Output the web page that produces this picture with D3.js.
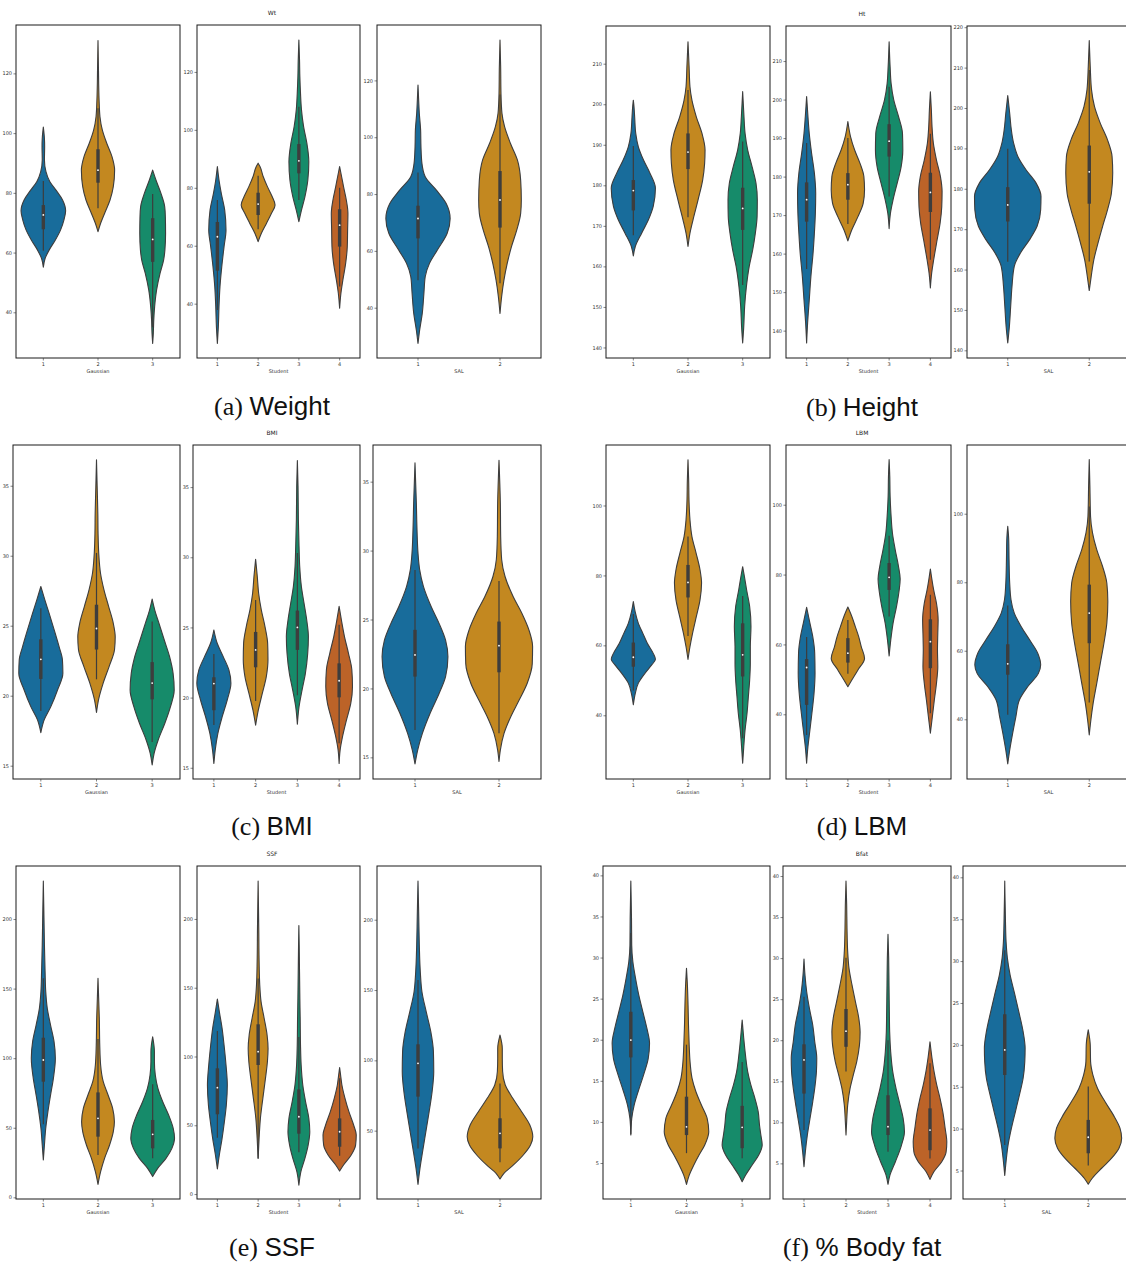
<!DOCTYPE html>
<html><head><meta charset="utf-8">
<script src="https://cdn.jsdelivr.net/npm/d3@7"></script>
<style>body{margin:0;background:#fff}</style>
</head><body><svg id="c" width="1126" height="1266"></svg>
<script>
// ---------- categories & labels ----------
const gaussCats = ["1","2","3"];
const studentCats = ["1","2","3","4"];
const salCats = ["1","2"];
const groupLabels = ["Gaussian","Student","SAL"];
const titles = ["Wt","Ht","BMI","LBM","SSF","Bfat"];
const captionTags = ["(a)","(b)","(c)","(d)","(e)","(f)"];
const captionWords = ["Weight","Height","BMI","LBM","SSF","% Body fat"];
const palette = ["#186c9b","#c38820","#168b6a","#bc6328"];

// ---------- tick labels ----------
const wtTicks = [40,60,80,100,120];
const htTicks = [140,150,160,170,180,190,200,210];
const htSalTicks = [140,150,160,170,180,190,200,210,220];
const bmiTicks = [15,20,25,30,35];
const lbmTicks = [40,60,80,100];
const ssfTicks = [0,50,100,150,200];
const ssfSalTicks = [50,100,150,200];
const bfatTicks = [5,10,15,20,25,30,35,40];

// ---------- axis value ranges ----------
const wtDomains = [[24.7,136.2],[21.25,136.2],[22.3,139.5]];
const htDomains = [[137.4,219.3],[132.9,219.1],[138.1,220.3]];
const bmiDomains = [[14.05,37.91],[14.2,38.0],[13.43,37.66]];
const lbmDomains = [[21.78,117.3],[21.47,117.1],[22.57,120.06]];
const ssfDomains = [[-1.2,238.1],[-3.6,238.5],[1.4,238.2]];
const bfatDomains = [[0.62,41.14],[0.66,41.22],[1.6,41.35]];

// ---------- violin density profiles: [value, relative half width] ----------
// (a) Weight
const wtGauss = [
 [[55.1,0],[58,0.08],[60.9,0.27],[64.2,0.55],[67.6,0.79],[70.9,0.94],[74,1.02],[77.6,0.88],[80.9,0.58],[83.7,0.3],[87.1,0.12],[91,0.05],[95.5,0.06],[98.2,0.05],[102,0]],
 [[67,0],[69.8,0.12],[73.1,0.3],[77.6,0.55],[82.1,0.7],[87.6,0.76],[92.1,0.64],[96.6,0.4],[101,0.2],[105.5,0.09],[111,0.05],[116.7,0.03],[122,0.02],[131,0]],
 [[29.6,0],[33,0.03],[37.4,0.05],[41.9,0.09],[47.5,0.18],[53.1,0.34],[57.5,0.5],[60.9,0.56],[66.4,0.59],[72,0.58],[75.4,0.55],[79.8,0.38],[84.3,0.15],[87.6,0]]
];
const wtStudent = [
 [[26.3,0],[32.1,0.06],[39,0.1],[45.9,0.16],[52.8,0.27],[59.7,0.41],[65.4,0.53],[72.3,0.45],[78.1,0.24],[82.7,0.1],[87.3,0]],
 [[61.4,0],[64.3,0.2],[67.7,0.51],[71.2,0.82],[74.1,1.04],[77,0.86],[80.4,0.57],[83.9,0.31],[87.3,0.12],[88.5,0]],
 [[68.3,0],[72.3,0.16],[76.9,0.37],[82.7,0.55],[89,0.61],[95.4,0.49],[101.1,0.29],[106.9,0.16],[112.6,0.1],[118.4,0.06],[124.1,0.04],[131,0]],
 [[38.4,0],[43.6,0.08],[48.2,0.2],[53.9,0.37],[59.7,0.47],[65.4,0.49],[71.2,0.51],[75.8,0.41],[80.4,0.24],[83.9,0.12],[87.3,0]]
];
const wtSal = [
 [[27.4,0],[32.1,0.05],[38,0.13],[45,0.18],[50.9,0.22],[55.6,0.35],[60.3,0.59],[66.2,0.89],[71.4,0.98],[76.7,0.86],[81.4,0.56],[86.1,0.22],[90.8,0.12],[96.7,0.09],[102.5,0.08],[108.4,0.04],[113.1,0.02],[118.4,0]],
 [[38,0],[43.9,0.05],[49.7,0.12],[55.6,0.22],[61.5,0.35],[67.3,0.51],[73.2,0.63],[77.9,0.65],[84.9,0.63],[92,0.53],[97.8,0.32],[103.7,0.14],[108.4,0.06],[115.4,0.03],[124.8,0.02],[134.2,0]]
];
// (b) Height
const htGauss = [
 [[162.6,0],[164.9,0.09],[168.2,0.38],[171.5,0.69],[174.8,0.91],[179.3,1.01],[183,0.76],[186.3,0.46],[189.5,0.23],[192.8,0.11],[196.9,0.06],[199.4,0.03],[201,0]],
 [[164.9,0],[168.2,0.09],[171.5,0.23],[176.4,0.46],[181.3,0.67],[185.4,0.76],[188.7,0.78],[192.8,0.64],[196.9,0.38],[201,0.18],[204.3,0.09],[209.3,0.05],[215.4,0]],
 [[141.1,0],[145.2,0.05],[150.1,0.09],[155,0.17],[160,0.3],[164.1,0.46],[168.2,0.58],[172.3,0.66],[176.4,0.67],[180.5,0.61],[184.6,0.43],[188.7,0.23],[192.8,0.11],[196.9,0.06],[203.1,0]]
];
const htStudent = [
 [[136.8,0],[142,0.06],[148,0.16],[154.1,0.26],[160.1,0.39],[165.3,0.47],[170.5,0.53],[175.7,0.55],[180.9,0.47],[186.1,0.3],[191.2,0.16],[195.6,0.08],[200.8,0]],
 [[163.3,0],[166.2,0.24],[169.6,0.61],[173.1,0.93],[176.6,1.01],[180,0.97],[183.5,0.73],[186.9,0.41],[190.4,0.16],[194.3,0]],
 [[166.5,0],[170.5,0.08],[174,0.24],[178.3,0.49],[182.6,0.73],[186.9,0.83],[191.2,0.81],[195.6,0.57],[199.9,0.28],[204.2,0.12],[208.5,0.06],[215,0]],
 [[151.1,0],[155,0.08],[158.4,0.2],[163.6,0.41],[167.9,0.59],[172.2,0.69],[176.1,0.71],[180,0.61],[184.3,0.37],[188.7,0.18],[193,0.1],[197.3,0.06],[202,0]]
];
const htSal = [
 [[141.8,0],[145.9,0.05],[150.9,0.09],[155.8,0.13],[160.8,0.2],[164.1,0.39],[167.4,0.67],[170.7,0.9],[174.8,1.01],[178.1,1.02],[181.4,0.87],[184.7,0.56],[188,0.31],[191.3,0.18],[194.6,0.11],[198.7,0.06],[203.1,0]],
 [[154.8,0],[158.3,0.06],[162.4,0.14],[166.6,0.27],[170.7,0.41],[174.8,0.56],[178.9,0.68],[183.9,0.72],[188,0.7],[192.1,0.56],[196.2,0.34],[200.4,0.16],[204.5,0.07],[210.3,0.03],[216.7,0]]
];
// (c) BMI
const bmiGauss = [
 [[17.36,0],[18.27,0.15],[19.22,0.45],[20.41,0.75],[21.6,0.99],[22.56,0.97],[23.5,0.82],[24.7,0.6],[25.9,0.37],[26.85,0.18],[27.8,0]],
 [[18.8,0],[19.7,0.09],[20.9,0.3],[22.1,0.57],[23.3,0.81],[24.2,0.84],[25.2,0.75],[26.4,0.54],[27.6,0.33],[28.75,0.18],[30.2,0.1],[31.6,0.07],[33,0.06],[34.95,0.03],[36.86,0]],
 [[15.05,0],[15.9,0.09],[16.84,0.27],[18.03,0.57],[19.2,0.82],[20.4,0.99],[21.6,0.94],[22.8,0.78],[24,0.54],[25.2,0.3],[26.1,0.12],[26.9,0]]
];
const bmiStudent = [
 [[15.3,0],[16.26,0.08],[17.45,0.24],[18.64,0.5],[19.83,0.8],[21.02,1.02],[21.97,0.9],[22.92,0.56],[23.87,0.2],[24.82,0]],
 [[18.04,0],[19.1,0.16],[20.3,0.4],[21.5,0.64],[22.7,0.74],[23.87,0.72],[25.06,0.56],[26.25,0.34],[27.44,0.18],[28.63,0.1],[29.86,0]],
 [[18.1,0],[19.35,0.1],[20.54,0.28],[21.73,0.48],[23.16,0.62],[24.35,0.66],[25.53,0.56],[26.72,0.4],[27.91,0.24],[29.34,0.14],[30.77,0.1],[32.67,0.06],[35.05,0.04],[36.9,0]],
 [[15.3,0],[16.26,0.06],[17.2,0.2],[18.4,0.44],[19.6,0.7],[20.8,0.8],[22,0.76],[23.16,0.56],[24.35,0.32],[25.5,0.14],[26.5,0]]
];
const bmiSal = [
 [[14.52,0],[15.53,0.08],[16.74,0.22],[18.2,0.45],[19.65,0.72],[20.86,0.91],[22.3,0.98],[23.5,0.91],[24.7,0.72],[25.94,0.48],[27.4,0.25],[28.6,0.14],[29.8,0.09],[31.5,0.06],[33.45,0.04],[36.36,0]],
 [[14.7,0],[15.53,0.04],[16.74,0.15],[17.95,0.35],[19.16,0.6],[20.38,0.84],[21.8,0.99],[23.04,1.0],[24.25,0.89],[25.46,0.68],[26.67,0.42],[28.12,0.18],[29.33,0.08],[31,0.05],[33.45,0.04],[36.55,0]]
];
// (d) LBM
const lbmGauss = [
 [[43,0],[46.3,0.09],[49.2,0.23],[52,0.53],[54.4,0.84],[56,1.01],[57.7,0.91],[60.6,0.64],[63.5,0.43],[66.3,0.23],[69.7,0.08],[72.5,0]],
 [[56,0],[59.6,0.09],[63.5,0.21],[68.2,0.38],[73,0.55],[77.8,0.62],[81.6,0.55],[86.4,0.37],[91.1,0.18],[95.9,0.09],[100.7,0.05],[107.3,0.03],[113.1,0]],
 [[26.3,0],[31,0.05],[35.8,0.11],[40.6,0.2],[45.3,0.26],[50.1,0.32],[54.9,0.35],[59.6,0.35],[65.4,0.38],[71.1,0.32],[75.9,0.18],[79.7,0.08],[82.5,0]]
];
const lbmStudent = [
 [[26,0],[30.7,0.08],[35.5,0.2],[40.3,0.32],[46,0.45],[51.8,0.51],[57.5,0.49],[62.3,0.37],[66.1,0.2],[70.6,0]],
 [[47.9,0],[49.8,0.24],[52.7,0.61],[56,1.01],[59.4,0.81],[62.3,0.65],[65.1,0.45],[68,0.24],[70.7,0]],
 [[56.7,0],[61.3,0.1],[66.1,0.24],[70.9,0.45],[75.6,0.61],[78.7,0.67],[82.3,0.57],[87.1,0.37],[91.9,0.2],[96.7,0.12],[102.4,0.06],[108.1,0.04],[112.9,0]],
 [[34.6,0],[39.3,0.12],[44.1,0.24],[48.9,0.37],[53.7,0.45],[58.4,0.43],[63.2,0.45],[67,0.47],[71.8,0.37],[75.6,0.2],[79,0.08],[81.6,0]]
];
const lbmSal = [
 [[27,0],[31,0.06],[35.9,0.15],[40.8,0.25],[45.7,0.36],[49.5,0.61],[53.4,0.94],[55.9,1.01],[59.3,0.92],[63.2,0.67],[67.1,0.41],[71,0.2],[74.9,0.1],[79.7,0.06],[86.6,0.04],[92.4,0.03],[96.3,0]],
 [[35.4,0],[39.8,0.05],[44.7,0.12],[50.5,0.23],[56.4,0.34],[62.2,0.45],[68.1,0.54],[74.4,0.57],[79.7,0.54],[84.6,0.41],[89.5,0.23],[94.4,0.1],[99.2,0.04],[108,0.02],[115.8,0]]
];
// (e) SSF
const ssfGauss = [
 [[26.8,0],[37.6,0.05],[49.6,0.11],[61.6,0.21],[73.5,0.33],[85.5,0.46],[99.9,0.55],[111.9,0.49],[123.8,0.33],[135.8,0.18],[147.8,0.11],[162.2,0.08],[181.3,0.05],[200.5,0.03],[227.3,0]],
 [[9.3,0],[18.4,0.12],[28,0.3],[37.6,0.53],[47.2,0.7],[54.4,0.75],[64,0.67],[73.5,0.46],[83.1,0.24],[95.1,0.12],[109.5,0.08],[128.6,0.06],[143,0.03],[157.4,0]],
 [[14.9,0],[20.8,0.23],[28,0.61],[35.2,0.88],[42.4,1.0],[49.6,0.94],[59.2,0.73],[68.7,0.46],[78.3,0.24],[87.9,0.12],[97.5,0.08],[104.7,0.08],[115.4,0]]
];
const ssfStudent = [
 [[18.2,0],[28.4,0.12],[40.5,0.29],[52.6,0.43],[64.7,0.55],[79.3,0.61],[93.8,0.53],[108.4,0.41],[120.5,0.29],[132.6,0.12],[141.8,0]],
 [[25.9,0],[40.5,0.06],[55,0.14],[69.6,0.29],[84.1,0.45],[96.2,0.57],[105.9,0.61],[115.6,0.55],[127.8,0.37],[139.9,0.18],[152,0.1],[169,0.06],[193.2,0.04],[227.6,0]],
 [[6.5,0],[16.2,0.12],[25.9,0.37],[35.6,0.57],[45.3,0.67],[55,0.61],[67.2,0.41],[79.3,0.24],[93.8,0.14],[108.4,0.1],[127.8,0.08],[142.3,0.06],[161.7,0.04],[181.1,0.02],[195.2,0]],
 [[16.7,0],[21.1,0.24],[28.4,0.71],[35.6,0.98],[42.9,1.02],[50.2,0.86],[59.9,0.57],[69.6,0.33],[79.3,0.14],[86.5,0.06],[91.9,0]]
];
const ssfSal = [
 [[11.8,0],[23.2,0.06],[35.1,0.14],[49.3,0.24],[63.5,0.34],[77.7,0.43],[91.9,0.48],[106.2,0.47],[120.4,0.39],[134.6,0.25],[148.8,0.12],[163,0.07],[182,0.04],[205.7,0.02],[227.5,0]],
 [[15.6,0],[19.7,0.12],[25.6,0.41],[32.7,0.71],[39.8,0.93],[45.7,1.0],[54,0.91],[63.5,0.66],[73,0.39],[82.5,0.16],[92,0.08],[101.4,0.07],[108.5,0.07],[118,0]]
];
// (f) Body fat
const bfatGauss = [
 [[8.4,0],[10.4,0.04],[12.05,0.15],[13.7,0.33],[15.7,0.57],[17.7,0.78],[19.56,0.84],[21.4,0.72],[23.4,0.54],[25.4,0.36],[27.5,0.21],[29.5,0.09],[31.5,0.04],[34.8,0.03],[39.3,0]],
 [[2.4,0],[3.5,0.12],[4.76,0.33],[6,0.57],[7.2,0.82],[8.8,1.0],[10.4,0.93],[12.05,0.67],[13.7,0.42],[15.3,0.25],[17.3,0.16],[19.4,0.12],[21.8,0.09],[24.2,0.07],[26.7,0.04],[28.7,0]],
 [[2.73,0],[3.5,0.15],[4.76,0.45],[6,0.75],[7.2,0.9],[8.4,0.84],[9.6,0.78],[11.25,0.72],[12.9,0.57],[14.5,0.39],[16.1,0.25],[18.1,0.15],[20.2,0.07],[22.4,0]]
];
const bfatStudent = [
 [[4.6,0],[6.4,0.08],[8.45,0.2],[10.5,0.36],[12.5,0.52],[14.5,0.66],[16.2,0.74],[17.8,0.76],[19.8,0.64],[21.85,0.52],[23.9,0.32],[25.9,0.16],[27.9,0.06],[29.9,0]],
 [[8.45,0],[10.1,0.04],[12.1,0.1],[14.1,0.24],[15.8,0.44],[17.4,0.64],[19.4,0.8],[21,0.84],[22.7,0.76],[24.7,0.56],[26.7,0.36],[28.75,0.18],[30.8,0.1],[33.6,0.06],[36.5,0.04],[39.4,0]],
 [[2.45,0],[3.6,0.12],[5.2,0.44],[7.2,0.8],[8.86,0.98],[10.5,0.9],[12.1,0.72],[14.1,0.48],[16.2,0.28],[18.6,0.16],[21,0.1],[23.5,0.08],[26.7,0.06],[30,0.04],[32.9,0]],
 [[3.05,0],[4,0.24],[5.2,0.7],[6.4,0.96],[7.6,1.0],[9.3,0.9],[11.3,0.76],[12.9,0.6],[14.55,0.4],[16.2,0.24],[17.8,0.12],[19.8,0]]
];
const bfatSal = [
 [[4.4,0],[6.07,0.04],[8.06,0.1],[10.05,0.2],[12.04,0.32],[14.03,0.44],[16.01,0.55],[18,0.6],[19.6,0.61],[21.58,0.55],[23.97,0.42],[26.36,0.28],[28.35,0.16],[30.33,0.08],[32.3,0.04],[35.1,0.02],[39.56,0]],
 [[3.37,0],[4.08,0.12],[5.27,0.4],[6.47,0.7],[7.66,0.92],[8.86,1.0],[10.05,0.95],[11.64,0.75],[13.23,0.5],[14.8,0.28],[16.4,0.14],[18,0.07],[20,0.06],[21.8,0]]
];

// ---------- inner box stats: [whisker low, Q1, median, Q3, whisker high] ----------
const wtBoxes = [
 [[60.6,67.8,72.6,75.9,84],[74.8,83.4,87.6,94.6,108.3],[35,56.9,64.4,71.5,79.6]],
 [[37.8,51.4,63.1,68.2,75.8],[65.7,70.6,74.4,78.3,84.2],[75.8,85,89.3,95.1,108],[45.9,59.7,67.1,72.6,80]],
 [[49.7,64.4,71.4,75.9,87.6],[48.6,68.2,77.9,88.1,115]]
];
const htBoxes = [
 [[167.7,173.8,178.7,181.3,189.7],[172.1,184,188.2,192.8,203.5],[155.4,169,174.3,179.4,190.8]],
 [[156,168.3,174,178.5,188.7],[167.7,174,177.9,180.9,190],[174.8,185.2,189.2,193.6,203.3],[158.4,170.8,175.9,181,191.1]],
 [[161.9,171.9,176,180.4,189.9],[162,176.3,184.2,190.7,209.4]]
];
const bmiBoxes = [
 [[18.9,21.2,22.6,24.03,26.25],[21.17,23.3,24.8,26.5,30.2],[16.7,19.74,20.9,22.4,25.3]],
 [[18.04,19.1,21,21.45,23.1],[19.76,22.16,23.4,24.68,26.96],[20.16,23.4,25,26.2,30.3],[16.74,20.02,21.2,22.44,25.2]],
 [[16.98,20.86,22.43,24.25,28.6],[16.74,21.17,23.1,24.85,27.8]]
];
const lbmBoxes = [
 [[47.1,53.9,56.6,60.8,69],[62.7,73.7,78,83,91.1],[33.4,51.1,57.3,66.3,74.1]],
 [[34.1,42.7,53.4,55.8,62.1],[51.6,54.8,57.5,61.8,67],[68,75.6,79.2,83.3,91.1],[40.3,53.2,60.8,67.2,74.2]],
 [[41.3,53,56.2,61.9,73.2],[44.9,62.2,71,79.3,102.1]]
];
const ssfBoxes = [
 [[52.5,83.1,98.7,114.7,157.4],[30.4,43.6,56.8,75.4,113.8],[28,35.2,45.3,55.6,81.2]],
 [[41,58,77.3,91.4,118.5],[26,93.8,103.5,123.4,156.8],[30.3,43.9,56.2,76.1,114.2],[27.9,34.4,45.3,55,84.1]],
 [[37.4,74.2,97.9,111.4,157.1],[27.5,37.4,48.1,58.8,83.6]]
];
const bfatBoxes = [
 [[8.5,17.85,19.96,23.4,33],[6.2,8.4,9.4,13.07,19.4],[5.57,6.8,9.34,11.95,17.3]],
 [[9.06,13.5,17.6,19.5,25.3],[16.2,19.2,21.1,23.8,30.05],[6.4,8.45,9.47,13.3,20],[5.6,6.6,9.06,11.7,17.2]],
 [[8.06,16.4,19.4,23.65,31.3],[5.6,7.06,8.97,11.04,15.02]]
];

// ---------- assemble ----------
const variables = [
 {violins:[wtGauss,wtStudent,wtSal], boxes:wtBoxes, domains:wtDomains, ticks:[wtTicks,wtTicks,wtTicks]},
 {violins:[htGauss,htStudent,htSal], boxes:htBoxes, domains:htDomains, ticks:[htTicks,htTicks,htSalTicks]},
 {violins:[bmiGauss,bmiStudent,bmiSal], boxes:bmiBoxes, domains:bmiDomains, ticks:[bmiTicks,bmiTicks,bmiTicks]},
 {violins:[lbmGauss,lbmStudent,lbmSal], boxes:lbmBoxes, domains:lbmDomains, ticks:[lbmTicks,lbmTicks,lbmTicks]},
 {violins:[ssfGauss,ssfStudent,ssfSal], boxes:ssfBoxes, domains:ssfDomains, ticks:[ssfTicks,ssfTicks,ssfSalTicks]},
 {violins:[bfatGauss,bfatStudent,bfatSal], boxes:bfatBoxes, domains:bfatDomains, ticks:[bfatTicks,bfatTicks,bfatTicks]}
];
const catSets = [gaussCats, studentCats, salCats];

// ---------- layout ----------
const layout = [
 {top:25, bottom:358, xs:[[16,180],[197,360],[377,541]], cx:272},
 {top:26, bottom:358, xs:[[606,770],[786,951],[967,1130]], cx:862},
 {top:445, bottom:779, xs:[[13,180],[193,360],[373,541]], cx:272},
 {top:445, bottom:779, xs:[[606,770],[786,951],[967,1130]], cx:862},
 {top:866, bottom:1199, xs:[[16,180],[197,360],[377,541]], cx:272},
 {top:866, bottom:1199, xs:[[603,770],[783,951],[963,1130]], cx:862}
];

const svg = d3.select("#c");
svg.append("rect").attr("width",1126).attr("height",1266).attr("fill","#fff");
const edge = "#3d3d3d";
const tickFont = "DejaVu Sans, sans-serif";

variables.forEach((v, pi) => {
  const L = layout[pi];
  const pg = svg.append("g");
  // title
  pg.append("text").attr("x", L.cx).attr("y", L.top - 10)
    .attr("text-anchor","middle").attr("font-family",tickFont)
    .attr("font-size",6).attr("fill","#222").text(titles[pi]);
  // caption
  const cap = pg.append("text").attr("x", L.cx).attr("y", L.top + 390)
    .attr("text-anchor","middle").attr("font-size",26).attr("fill","#111");
  cap.append("tspan").attr("font-family","Liberation Serif, serif").text(captionTags[pi] + " ");
  cap.append("tspan").attr("font-family","Liberation Sans, Arial, sans-serif").text(captionWords[pi]);

  for (let s = 0; s < 3; s++) {
    const [x0, x1] = L.xs[s];
    const cats = catSets[s];
    const x = d3.scaleBand().domain(cats).range([x0, x1]).padding(0);
    const y = d3.scaleLinear().domain(v.domains[s]).range([L.bottom, L.top]);
    const wScale = d3.scaleLinear().domain([0, 1]).range([0, x.bandwidth() * 0.4]);
    const g = pg.append("g");

    v.violins[s].forEach((prof, i) => {
      const cx = x(cats[i]) + x.bandwidth() / 2;
      const area = d3.area().curve(d3.curveMonotoneY)
        .y(d => y(d[0]))
        .x0(d => cx - wScale(d[1]))
        .x1(d => cx + wScale(d[1]));
      g.append("path").attr("d", area(prof))
        .attr("fill", palette[i]).attr("stroke", edge).attr("stroke-width", 1.1)
        .attr("stroke-linejoin","round");
      const b = v.boxes[s][i];
      g.append("line").attr("x1",cx).attr("x2",cx).attr("y1",y(b[0])).attr("y2",y(b[4]))
        .attr("stroke", edge).attr("stroke-width", 1.2);
      g.append("line").attr("x1",cx).attr("x2",cx).attr("y1",y(b[1])).attr("y2",y(b[3]))
        .attr("stroke", edge).attr("stroke-width", 3.4);
      g.append("circle").attr("cx",cx).attr("cy",y(b[2])).attr("r",0.9).attr("fill","#fff");
    });

    // frame
    g.append("rect").attr("x",x0).attr("y",L.top).attr("width",x1-x0).attr("height",L.bottom-L.top)
      .attr("fill","none").attr("stroke","#1a1a1a").attr("stroke-width",1);

    // y axis
    const ya = g.append("g").attr("transform",`translate(${x0},0)`)
      .call(d3.axisLeft(y).tickValues(v.ticks[s]).tickSize(2.5).tickPadding(1.5));
    ya.select(".domain").remove();
    ya.selectAll("text").attr("font-family",tickFont).attr("font-size",5).attr("fill","#333");
    ya.selectAll("line").attr("stroke","#333").attr("stroke-width",0.6);

    // x axis
    const xa = g.append("g").attr("transform",`translate(0,${L.bottom})`)
      .call(d3.axisBottom(x).tickSize(2.5).tickPadding(1.5));
    xa.select(".domain").remove();
    xa.selectAll("text").attr("font-family",tickFont).attr("font-size",5).attr("fill","#333");
    xa.selectAll("line").attr("stroke","#333").attr("stroke-width",0.6);

    g.append("text").attr("x",(x0+x1)/2).attr("y",L.bottom + 14.5)
      .attr("text-anchor","middle").attr("font-family",tickFont).attr("font-size",5)
      .attr("fill","#333").text(groupLabels[s]);
  }
});
</script>
</body></html>
